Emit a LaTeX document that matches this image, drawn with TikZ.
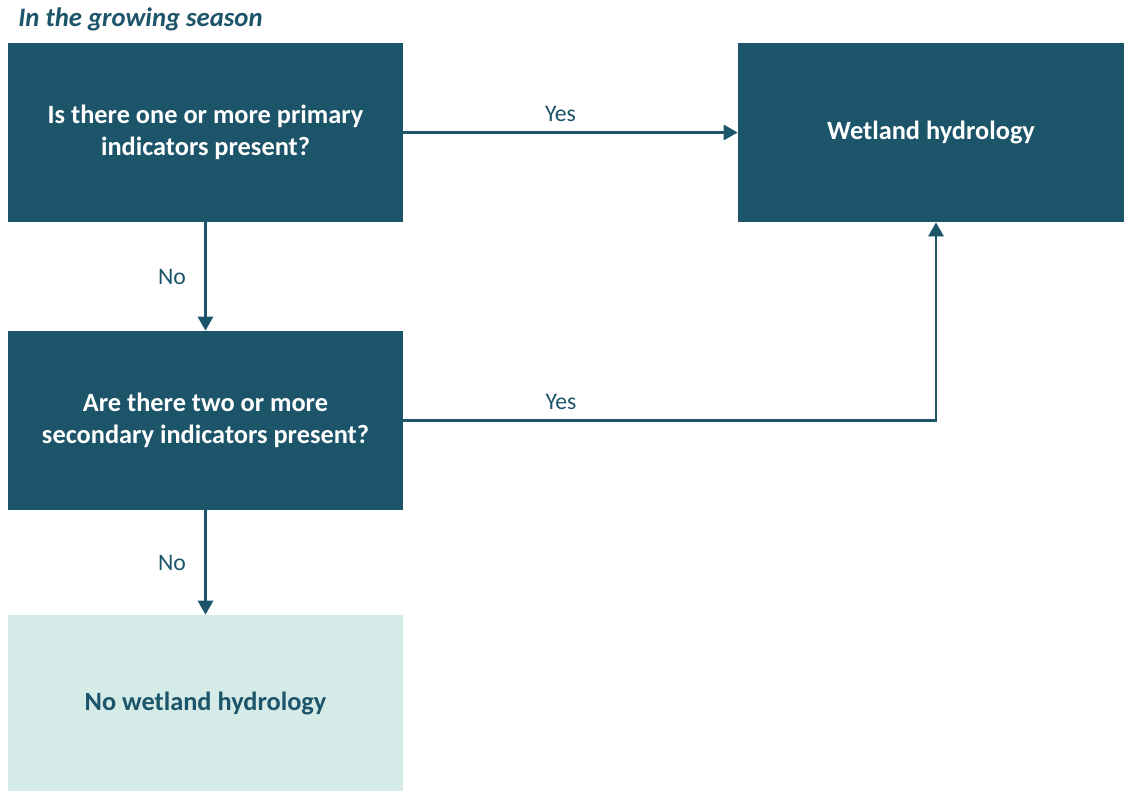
\documentclass[tikz,border=0pt]{standalone}
\usepackage{fontspec}
\setmainfont{Carlito}
\usetikzlibrary{arrows.meta}
\usepackage{xcolor}
\definecolor{tealdark}{HTML}{1C5469}
\definecolor{teallight}{HTML}{D5EBE7}

\begin{document}
\begin{tikzpicture}[x=.02cm, y=-.02cm,
  box/.style={rectangle, fill=tealdark, text=white, font=\fontsize{15}{18.5}\selectfont\bfseries, align=center, minimum width=7.9cm, minimum height=3.58cm, inner sep=0},
  endbox/.style={box, fill=teallight, text=tealdark},
  flow/.style={tealdark, line width=1.6pt, -{Triangle[length=.28cm, width=.3cm]}},
  lbl/.style={text=tealdark, font=\fontsize{13.5}{16}\selectfont}]
\useasboundingbox (0,0) rectangle (1124,791);
\node[anchor=base west, text=tealdark, font=\fontsize{15.2}{18}\selectfont\bfseries\itshape, inner sep=0] (title) at (18,27) {In the growing season};
\node[box] (primary) at (205.5,132.5) {Is there one or more primary\\indicators present?};
\node[box, minimum width=7.72cm] (wetland) at (931,132.5) {Wetland hydrology};
\node[box] (secondary) at (205.5,420.5) {Are there two or more\\secondary indicators present?};
\node[endbox, minimum height=3.52cm] (nowetland) at (205.5,703) {No wetland hydrology};
\coordinate (corner) at (936,420.5);
\draw[flow] (primary.east) -- (wetland.west) node[lbl, pos=.47, above, yshift=2pt] {Yes};
\draw[flow] (primary.south) -- (secondary.north) node[lbl, midway, left, xshift=-7pt] {No};
\draw[flow] (secondary.east) -- (corner) node[lbl, pos=.296, above, yshift=2pt] {Yes} -- (corner |- wetland.south);
\draw[flow] (secondary.south) -- (nowetland.north) node[lbl, midway, left, xshift=-7pt] {No};
\end{tikzpicture}
\end{document}
